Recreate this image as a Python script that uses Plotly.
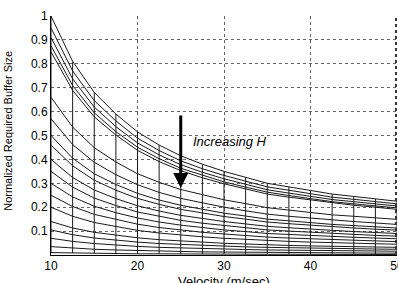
import plotly.graph_objects as go

velocity = [10, 12.5, 15, 17.5, 20, 22.5, 25, 27.5, 30, 32.5, 35, 37.5, 40, 42.5, 45, 47.5, 50]

buffer_curves = [
    [1.0, 0.81, 0.68, 0.59, 0.515, 0.46, 0.415, 0.38, 0.35, 0.325, 0.30, 0.285, 0.27, 0.255, 0.245, 0.235, 0.225],
    [0.95, 0.770, 0.646, 0.561, 0.489, 0.437, 0.394, 0.361, 0.333, 0.309, 0.285, 0.271, 0.257, 0.242, 0.233, 0.223, 0.214],
    [0.91, 0.737, 0.619, 0.537, 0.469, 0.419, 0.378, 0.346, 0.319, 0.296, 0.273, 0.259, 0.246, 0.232, 0.223, 0.214, 0.205],
    [0.875, 0.709, 0.595, 0.516, 0.451, 0.403, 0.363, 0.333, 0.306, 0.284, 0.263, 0.249, 0.236, 0.223, 0.214, 0.206, 0.197],
    [0.85, 0.689, 0.578, 0.502, 0.438, 0.391, 0.353, 0.323, 0.298, 0.276, 0.255, 0.242, 0.230, 0.217, 0.208, 0.200, 0.191],
    [0.66, 0.535, 0.449, 0.389, 0.340, 0.304, 0.274, 0.251, 0.231, 0.215, 0.198, 0.188, 0.178, 0.168, 0.162, 0.155, 0.149],
    [0.57, 0.462, 0.388, 0.336, 0.294, 0.262, 0.237, 0.217, 0.200, 0.185, 0.171, 0.162, 0.154, 0.145, 0.140, 0.134, 0.128],
    [0.50, 0.405, 0.340, 0.295, 0.258, 0.230, 0.208, 0.190, 0.175, 0.163, 0.150, 0.143, 0.135, 0.128, 0.123, 0.118, 0.113],
    [0.46, 0.373, 0.313, 0.271, 0.237, 0.212, 0.191, 0.175, 0.161, 0.150, 0.138, 0.131, 0.124, 0.117, 0.113, 0.108, 0.104],
    [0.40, 0.324, 0.272, 0.236, 0.206, 0.184, 0.166, 0.152, 0.140, 0.130, 0.120, 0.114, 0.108, 0.102, 0.098, 0.094, 0.090],
    [0.35, 0.284, 0.238, 0.207, 0.180, 0.161, 0.145, 0.133, 0.123, 0.114, 0.105, 0.100, 0.095, 0.089, 0.086, 0.082, 0.079],
    [0.30, 0.243, 0.204, 0.177, 0.155, 0.138, 0.125, 0.114, 0.105, 0.098, 0.090, 0.086, 0.081, 0.077, 0.074, 0.071, 0.068],
    [0.25, 0.203, 0.170, 0.148, 0.129, 0.115, 0.104, 0.095, 0.088, 0.081, 0.075, 0.071, 0.068, 0.064, 0.061, 0.059, 0.056],
    [0.20, 0.162, 0.136, 0.118, 0.103, 0.092, 0.083, 0.076, 0.070, 0.065, 0.060, 0.057, 0.054, 0.051, 0.049, 0.047, 0.045],
    [0.14, 0.113, 0.095, 0.083, 0.072, 0.064, 0.058, 0.053, 0.049, 0.046, 0.042, 0.040, 0.038, 0.036, 0.034, 0.033, 0.032],
    [0.105, 0.085, 0.071, 0.062, 0.054, 0.048, 0.044, 0.040, 0.037, 0.034, 0.032, 0.030, 0.028, 0.027, 0.026, 0.025, 0.024],
    [0.07, 0.057, 0.048, 0.041, 0.036, 0.032, 0.029, 0.027, 0.025, 0.023, 0.021, 0.020, 0.019, 0.018, 0.017, 0.016, 0.016],
    [0.035, 0.028, 0.024, 0.021, 0.018, 0.016, 0.015, 0.013, 0.012, 0.011, 0.011, 0.010, 0.009, 0.009, 0.009, 0.008, 0.008],
    [0.01, 0.008, 0.007, 0.006, 0.005, 0.005, 0.004, 0.004, 0.004, 0.003, 0.003, 0.003, 0.003, 0.003, 0.002, 0.002, 0.002],
]

x_ticks = [10, 20, 30, 40, 50]
y_ticks = [0.1, 0.2, 0.3, 0.4, 0.5, 0.6, 0.7, 0.8, 0.9, 1]
y_tick_labels = ["0.1", "0.2", "0.3", "0.4", "0.5", "0.6", "0.7", "0.8", "0.9", "1"]

annotation_text = "Increasing H"
x_title = "Velocity (m/sec)"
y_title = "Normalized Required Buffer Size"

FONT = "Liberation Sans, Arial, sans-serif"
LINE = "#1a1a1a"
GRID = "#666666"

fig = go.Figure()

for row in buffer_curves:
    fig.add_trace(go.Scatter(x=velocity, y=row, mode="lines",
                             line=dict(color=LINE, width=1), hoverinfo="skip"))

# vertical mesh lines connecting the curves at each velocity
vx, vy = [], []
for j, v in enumerate(velocity):
    col = [row[j] for row in buffer_curves]
    vx += [v, v, None]
    vy += [max(col), min(col), None]
fig.add_trace(go.Scatter(x=vx, y=vy, mode="lines",
                         line=dict(color=LINE, width=1), hoverinfo="skip"))

fig.add_annotation(x=25, y=0.28, ax=25, ay=0.59, xref="x", yref="y",
                   axref="x", ayref="y", showarrow=True, arrowhead=2,
                   arrowsize=1, arrowwidth=3, arrowcolor="black", text="")
fig.add_annotation(x=26.2, y=0.477, xref="x", yref="y", showarrow=False,
                   text="<i>" + annotation_text + "</i>", xanchor="left",
                   font=dict(family=FONT, size=13, color="black"))

# axis titles placed as in the reference
fig.add_annotation(x=0.5, y=-0.071, xref="paper", yref="paper", showarrow=False,
                   text=x_title, xanchor="center", yanchor="top",
                   font=dict(family=FONT, size=13, color="black"))
fig.add_annotation(x=-0.124, y=0.52, xref="paper", yref="paper", showarrow=False,
                   text=y_title, textangle=-90, xanchor="center", yanchor="middle",
                   font=dict(family=FONT, size=11, color="black"))

# dotted right border of the axes box
fig.add_shape(type="line", xref="paper", yref="paper", x0=0.997, x1=0.997, y0=0, y1=1,
              line=dict(color="#333333", width=2, dash="dot"), layer="above")

fig.update_layout(
    width=398, height=283,
    margin=dict(l=51, r=1, t=16, b=28),
    paper_bgcolor="white", plot_bgcolor="white",
    showlegend=False,
    font=dict(family=FONT, size=12, color="black"),
)
fig.update_xaxes(range=[10, 50], tickvals=x_ticks, ticks="", showline=True,
                 linecolor="black", linewidth=1, mirror=False, automargin=False,
                 showgrid=True, gridcolor=GRID, griddash="dot", gridwidth=1,
                 zeroline=False, tickfont=dict(size=12), ticklabeloverflow="allow")
fig.update_yaxes(range=[0, 1], tickvals=y_ticks, ticktext=y_tick_labels, ticks="",
                 showline=True, linecolor="black", linewidth=1, mirror=False,
                 automargin=False, ticklabeloverflow="allow",
                 showgrid=True, gridcolor=GRID, griddash="dot", gridwidth=1,
                 zeroline=False, tickfont=dict(size=12))

fig.write_html("out.html", config={"displayModeBar": False},
               post_script="document.body.style.margin='0';"
                           "document.body.style.overflow='hidden';")
